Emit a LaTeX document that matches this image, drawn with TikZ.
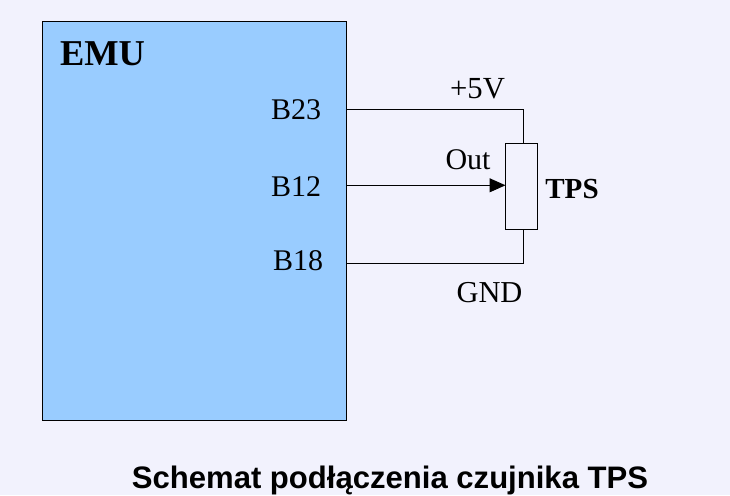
\documentclass[tikz,border=0pt]{standalone}
\usepackage{fontspec}
\usetikzlibrary{arrows.meta}
\setmainfont{Liberation Serif}
\setsansfont{Liberation Sans}
\definecolor{bgc}{HTML}{F2F2FD}
\definecolor{emuc}{HTML}{99CCFF}
\tikzset{
  wire/.style={draw=black,line width=0.75pt},
  lab/.style={inner sep=0pt,font=\fontsize{22.5}{26}\selectfont,anchor=center},
}
\begin{document}
\begin{tikzpicture}[x=0.75pt,y=-0.75pt]
\useasboundingbox (0,0) rectangle (730,495);
\fill[bgc] (0,0) rectangle (730,495);
\node[draw=black,fill=emuc,line width=0.75pt,minimum width=228pt,minimum height=299pt,inner sep=0pt,outer sep=0pt] (emu) at (194.5,220.8) {};
\node[draw=black,fill=bgc,line width=0.75pt,minimum width=24pt,minimum height=64.5pt,inner sep=0pt,outer sep=0pt] (tps) at (521.5,186.3) {};
\node[lab,font=\fontsize{27.3}{32}\selectfont\bfseries] (emut) at (102.5,54) {EMU};
\node[lab] (b23) at (296,109.7) {B23};
\node[lab] (b12) at (296,186.5) {B12};
\node[lab] (b18) at (298,260.8) {B18};
\coordinate (b23e) at (emu.east |- 0,109.3);
\coordinate (b12e) at (emu.east |- 0,185.3);
\coordinate (b18e) at (emu.east |- 0,263.3);
\coordinate (ttop) at (523.3,143.3);
\coordinate (tbot) at (523.3,229.3);
\coordinate (tin) at (tps.west |- 0,185.3);
\draw[wire] (b23e) -| (ttop);
\draw[wire] (b18e) -| (tbot);
\draw[wire,-{Triangle[length=12pt,width=10.5pt]}] (b12e) -- (tin);
\node[lab,font=\fontsize{23}{27}\selectfont] (v5) at (477.5,89) {+5V};
\node[lab] (out) at (468,159.5) {Out};
\node[lab,font=\fontsize{22.8}{27}\selectfont] (gnd) at (489.5,292.5) {GND};
\node[lab,font=\fontsize{21.8}{26}\selectfont\bfseries] (tpst) at (572,189) {TPS};
\node[lab,font=\fontsize{23.3}{28}\selectfont\sffamily\bfseries] (cap) at (390,480) {Schemat podłączenia czujnika TPS};
\end{tikzpicture}
\end{document}
